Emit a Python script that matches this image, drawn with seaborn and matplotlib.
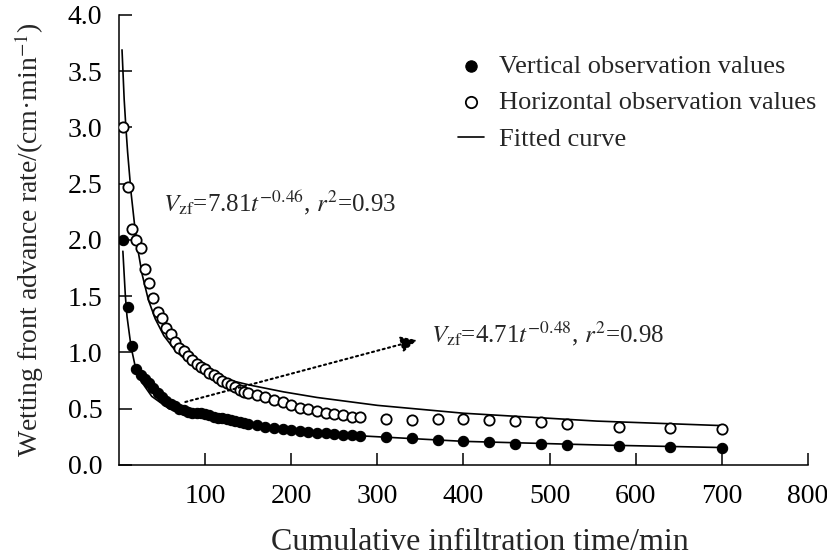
import numpy as np
import pandas as pd
import seaborn as sns
import matplotlib.pyplot as plt

# observation times (min)
time = [5, 10, 15, 20, 25, 30, 35, 40, 45, 50, 55, 60, 65, 70, 75, 80, 85, 90, 95, 100,
        105, 110, 115, 120, 125, 130, 135, 140, 145, 150, 160, 170, 180, 190, 200, 210,
        220, 230, 240, 250, 260, 270, 280, 310, 340, 370, 400, 430, 460, 490, 520, 580,
        640, 700]

vertical = [2.00, 1.40, 1.06, 0.85, 0.80, 0.76, 0.73, 0.68, 0.64, 0.60, 0.57, 0.54, 0.52,
            0.50, 0.49, 0.47, 0.465, 0.46, 0.46, 0.455, 0.44, 0.43, 0.42, 0.415, 0.405, 0.40,
            0.39, 0.385, 0.376, 0.365, 0.355, 0.34, 0.33, 0.32, 0.31, 0.30, 0.29, 0.285,
            0.28, 0.275, 0.27, 0.265, 0.26, 0.25, 0.24, 0.22, 0.21, 0.20, 0.19, 0.19, 0.18,
            0.17, 0.16, 0.15]

horizontal = [3.00, 2.47, 2.10, 2.00, 1.93, 1.74, 1.62, 1.48, 1.36, 1.31, 1.22, 1.16, 1.09,
              1.04, 1.01, 0.97, 0.93, 0.90, 0.87, 0.85, 0.82, 0.80, 0.77, 0.75, 0.73, 0.71,
              0.69, 0.67, 0.65, 0.64, 0.62, 0.60, 0.58, 0.56, 0.53, 0.51, 0.50, 0.48, 0.46,
              0.45, 0.44, 0.43, 0.43, 0.41, 0.40, 0.41, 0.41, 0.40, 0.39, 0.38, 0.36, 0.34,
              0.33, 0.32]

# fitted curves
fit_h_t = [3.5, 6, 8, 10, 14, 18, 22, 27, 34, 42, 52, 65, 81, 100, 125, 152, 191, 230, 300,
           400, 555, 700]
fit_h_v = [3.69, 3.25, 3.0, 2.78, 2.42, 2.14, 1.91, 1.69, 1.47, 1.30, 1.15, 1.02, 0.91, 0.83,
           0.76, 0.71, 0.65, 0.60, 0.53, 0.46, 0.39, 0.35]
fit_v_t = [4.5, 7.4, 9.3, 14, 19, 27, 38, 58, 89, 143, 200, 278, 400, 555, 700]
fit_v_v = [1.90, 1.50, 1.32, 1.05, 0.87, 0.73, 0.61, 0.50, 0.43, 0.37, 0.31, 0.26, 0.21, 0.178, 0.155]

sns.set_style("ticks")
plt.rcParams['font.family'] = ['Liberation Serif', 'DejaVu Serif']
plt.rcParams['mathtext.fontset'] = 'stix'

fig = plt.figure(figsize=(8.27, 5.59), dpi=100)
ax = fig.add_axes([0.1439, 0.1682, 0.8331, 0.805])

obs = pd.DataFrame({'t': time, 'vertical': vertical, 'horizontal': horizontal})

sns.lineplot(x=fit_h_t, y=fit_h_v, ax=ax, color='black', lw=1.2, label='Fitted curve')
sns.lineplot(x=fit_v_t, y=fit_v_v, ax=ax, color='black', lw=1.2)
sns.scatterplot(data=obs, x='t', y='vertical', ax=ax, color='black', edgecolor='black',
                s=55, linewidth=0.8, label='Vertical observation values', zorder=3)
sns.scatterplot(data=obs, x='t', y='horizontal', ax=ax, facecolor='white', edgecolor='black',
                s=55, linewidth=1.3, label='Horizontal observation values', zorder=3)

ax.set_xlim(0, 800)
ax.set_ylim(0, 4.0)
ax.set_xticks([100, 200, 300, 400, 500, 600, 700, 800])
ax.set_yticks(np.arange(0, 4.01, 0.5))
ax.yaxis.set_major_formatter(plt.FormatStrFormatter('%.1f'))
ax.tick_params(direction='in', length=9, width=1.1, labelsize=20, colors='black')
ax.tick_params(axis='x', pad=14)
ax.tick_params(axis='y', pad=12)
for side in ['top', 'right']:
    ax.spines[side].set_visible(False)
for side in ['left', 'bottom']:
    ax.spines[side].set_linewidth(1.1)
    ax.spines[side].set_color('black')

ax.set_xlabel('Cumulative infiltration time/min', fontsize=23)
ax.xaxis.set_label_coords(0.524, -0.14)
ax.set_ylabel('Wetting front advance rate/(cm·min$^{-1}$)', fontsize=20)
ax.yaxis.set_label_coords(-0.106, 0.5)

ax.text(51, 2.33, r'$V_{\rm zf}$=7.81$t^{-0.46}$, $r^2$=0.93', fontsize=18, va='center', ha='left')
ax.text(362, 1.17, r'$V_{\rm zf}$=4.71$t^{-0.48}$, $r^2$=0.98', fontsize=18, va='center', ha='left')
ax.annotate('', xy=(346, 1.11), xytext=(77, 0.56),
            arrowprops=dict(arrowstyle='-|>', linestyle=':', color='black', lw=1.5,
                            mutation_scale=24, shrinkA=0, shrinkB=0))

h, l = ax.get_legend_handles_labels()
order = [l.index('Vertical observation values'), l.index('Horizontal observation values'),
         l.index('Fitted curve')]
ax.legend([h[i] for i in order], [l[i] for i in order], loc='upper left',
          bbox_to_anchor=(0.541, 0.922), bbox_transform=fig.transFigure, frameon=False,
          fontsize=19, handlelength=1.0, handletextpad=0.55, labelspacing=0.5,
          markerscale=1.1, borderaxespad=0)

fig.savefig('out.png', dpi=100)
